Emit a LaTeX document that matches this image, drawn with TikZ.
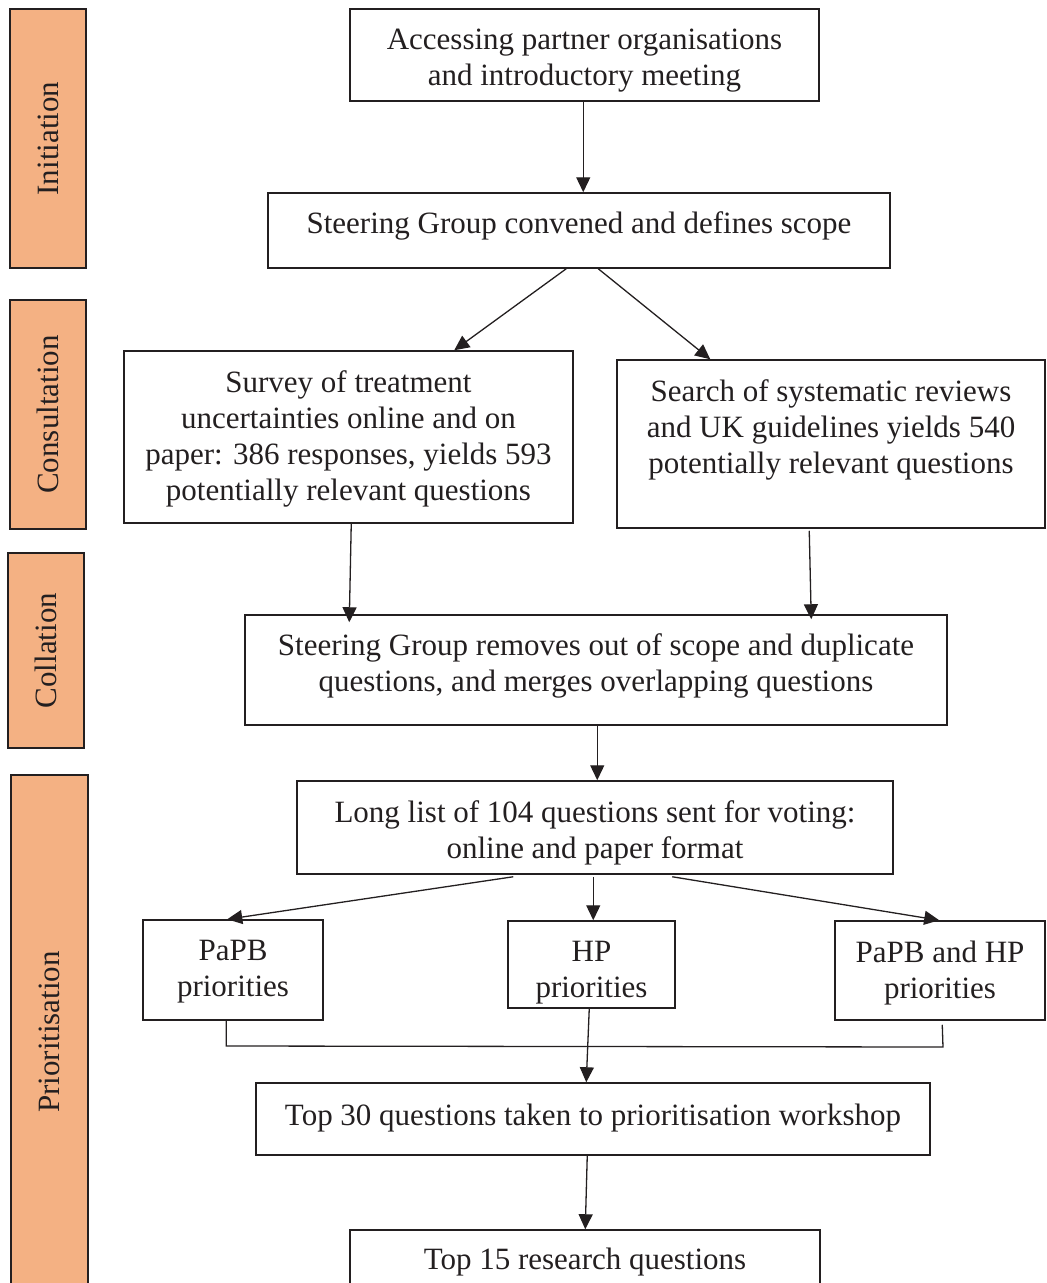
\documentclass[tikz,border=0pt]{standalone}
\usepackage{fontspec}
\setmainfont{Liberation Serif}
\usetikzlibrary{arrows.meta}
\definecolor{band}{RGB}{244,177,131}
\definecolor{ink}{RGB}{35,31,32}
\tikzset{
  box/.style={draw=ink, line width=1.5pt, inner sep=0pt},
  txt/.style={align=center, inner sep=0pt, text=ink, font=\fontsize{31}{36}\selectfont},
  bandbox/.style={draw=ink, line width=1.8pt, fill=band, inner sep=0pt},
  bandtext/.style={text=ink, rotate=90, font=\fontsize{31}{36}\selectfont},
  arr/.style={draw=ink, line width=1.3pt, -{Triangle[width=14pt,length=15pt]}},
  ln/.style={draw=ink, line width=1.3pt}
}
\begin{document}
\begin{tikzpicture}[x=1pt,y=-1pt]
\useasboundingbox (0,0) rectangle (1047,1283);
\clip (0,0) rectangle (1047,1283);
% phase bands
\node[bandbox, minimum width=76pt, minimum height=259pt] (b1) at (48,138.5) {};
\node[bandtext] (t1) at (b1.center) {Initiation};
\node[bandbox, minimum width=76pt, minimum height=229pt] (b2) at (48,414.5) {};
\node[bandtext] (t2) at (b2.center) {Consultation};
\node[bandbox, minimum width=76pt, minimum height=195pt] (b3) at (46,650.5) {};
\node[bandtext] (t3) at (b3.center) {Collation};
\node[bandbox, minimum width=77pt, minimum height=540pt] (b4) at (49.5,1045) {};
\node[bandtext] (t4) at (49.5,1032) {Prioritisation};
% boxes
\node[box, minimum width=469pt, minimum height=92pt] (a) at (584.5,55) {};
\node[txt] (at) at (584.5,61) {Accessing partner organisations\\and introductory meeting};
\node[box, minimum width=622pt, minimum height=75pt] (b) at (579,230.5) {};
\node[txt] (bt) at (579,225.5) {Steering Group convened and defines scope};
\node[box, minimum width=449pt, minimum height=172pt] (c) at (348.5,437) {};
\node[txt] (ct) at (348.5,438.5) {Survey of treatment\\uncertainties online and on\\paper: 386 responses, yields 593\\potentially relevant questions};
\node[box, minimum width=428pt, minimum height=168pt] (d) at (831,444) {};
\node[txt] (dt) at (831,429.5) {Search of systematic reviews\\and UK guidelines yields 540\\potentially relevant questions};
\node[box, minimum width=702pt, minimum height=110pt] (e) at (596,670) {};
\node[txt] (et) at (596,666) {Steering Group removes out of scope and duplicate\\questions, and merges overlapping questions};
\node[box, minimum width=596pt, minimum height=93pt] (f) at (595,827.5) {};
\node[txt] (ft) at (595,833) {Long list of 104 questions sent for voting:\\online and paper format};
\node[box, minimum width=180pt, minimum height=100pt] (g) at (233,970) {};
\node[txt] (gt) at (233,972) {PaPB\\priorities};
\node[box, minimum width=167pt, minimum height=87pt] (h) at (591.5,964.5) {};
\node[txt] (ht) at (591.5,973) {HP\\priorities};
\node[box, minimum width=210pt, minimum height=99pt] (i) at (940,970.5) {};
\node[txt] (it) at (940,973) {PaPB and HP\\priorities};
\node[box, minimum width=674pt, minimum height=72pt] (j) at (593,1119) {};
\node[txt] (jt) at (593,1118) {Top 30 questions taken to prioritisation workshop};
\node[box, minimum width=470pt, minimum height=70pt] (k) at (585,1265) {};
\node[txt] (kt) at (585,1262.5) {Top 15 research questions};
% connectors
\draw[arr] ([xshift=234pt]a.south west) -- ([xshift=316pt]b.north west);
\draw[arr] ([xshift=299pt]b.south west) -- ([xshift=331pt]c.north west);
\draw[arr] ([xshift=331pt]b.south west) -- ([xshift=94pt]d.north west);
\draw[arr] ([xshift=228pt]c.south west) -- ([xshift=105pt,yshift=-8pt]e.north west);
\draw[arr] ([xshift=193pt,yshift=-2pt]d.south west) -- ([xshift=567pt,yshift=-5pt]e.north west);
\draw[arr] ([xshift=353pt]e.south west) -- ([xshift=301pt]f.north west);
\draw[arr] ([xshift=217pt,yshift=-2pt]f.south west) -- ([xshift=85pt]g.north west);
\draw[arr] ([xshift=297pt,yshift=-2pt]f.south west) -- ([xshift=86pt]h.north west);
\draw[arr] ([xshift=376pt,yshift=-2pt]f.south west) -- ([xshift=105pt]i.north west);
\coordinate (m1) at (227,1046);
\coordinate (m2) at (943,1047);
\draw[ln] ([xshift=84pt]g.south west) |- (m1) -- (m2) -- ([xshift=108pt,yshift=-4pt]i.south west);
\draw[arr] ([xshift=82pt]h.south west) -- ([xshift=331pt]j.north west);
\draw[arr] ([xshift=332pt]j.south west) -- ([xshift=236pt]k.north west);
\end{tikzpicture}
\end{document}
